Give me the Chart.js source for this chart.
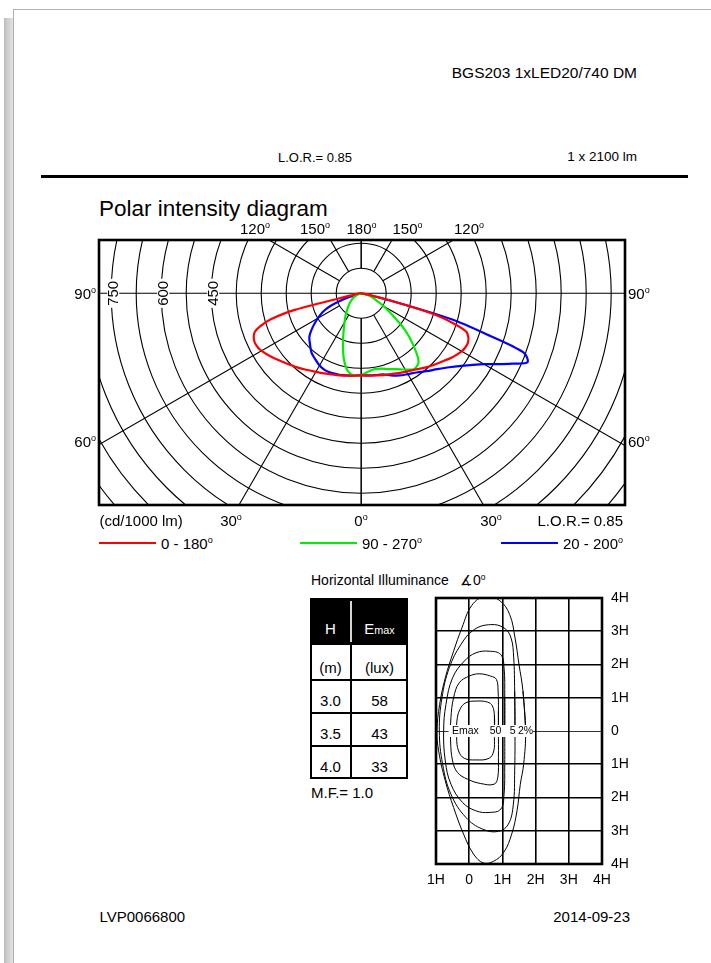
<!DOCTYPE html>
<html>
<head>
<meta charset="utf-8">
<title>BGS203 1xLED20/740 DM</title>
<script src="https://cdn.jsdelivr.net/npm/chart.js@4.4.1/dist/chart.umd.min.js"></script>
<style>
  html, body { margin: 0; padding: 0; }
  body { width: 711px; height: 963px; position: relative; overflow: hidden; background: #fff;
         font-family: 'Liberation Sans', Arial, sans-serif; color: #000; }
  .shadow { position: absolute; left: 4px; top: 18px; width: 9px; height: 945px;
            background: linear-gradient(to right, #bcbcbc, #cdcdcd 35%, #e2e2e2); }
  .page { position: absolute; left: 13px; top: 9px; width: 720px; height: 980px; background: #fff;
          border-top: 1px solid #b0b0b0; border-left: 1px solid #b0b0b0; }
  .t { position: absolute; white-space: nowrap; line-height: 1; }
  .t sup { font-size: 0.6em; vertical-align: 0.62em; line-height: 0; }
  .t small { font-size: 0.72em; }
  canvas { position: absolute; }
  .blk { position: absolute; background: #000; }
</style>
</head>
<body>
<div class="shadow"></div>
<div class="page"></div>
<div class="blk" style="left:41px;top:175px;width:647px;height:3px"></div>

<canvas id="polar" width="546" height="285" style="left:89px;top:230px"></canvas>
<canvas id="iso" width="206" height="300" style="left:426px;top:588px"></canvas>

<!-- legend strokes -->
<div class="blk" style="left:99px;top:542px;width:57px;height:2px;background:#ff0000"></div>
<div class="blk" style="left:300px;top:542px;width:57px;height:2px;background:#00ee00"></div>
<div class="blk" style="left:501px;top:542px;width:57px;height:2px;background:#0000ff"></div>

<!-- Emax table frame -->
<div class="blk" style="left:310px;top:598px;width:98px;height:47px"></div>
<div class="blk" style="left:350px;top:601px;width:2px;height:41px;background:#d4d4d4"></div>
<div style="position:absolute;left:310px;top:598px;width:98px;height:181px;box-sizing:border-box;border:2px solid #000"></div>
<div class="blk" style="left:350px;top:645px;width:1.5px;height:134px"></div>
<div class="blk" style="left:310px;top:679px;width:98px;height:1.5px"></div>
<div class="blk" style="left:310px;top:712px;width:98px;height:1.5px"></div>
<div class="blk" style="left:310px;top:745px;width:98px;height:1.5px"></div>

<script>
const FONT = "'Liberation Sans', Arial, sans-serif";

// luminous intensity (cd/1000 lm) against gamma, 0 = nadir
const gammaDeg = [0, 5, 10, 15, 20, 25, 30, 35, 40, 45, 50, 55, 60, 62.5, 65, 67.5, 70, 72, 74, 76, 78, 80];
const cdC0   = [246, 248, 251, 255, 259, 265, 272, 281, 292, 303, 316, 331, 345, 350, 352, 349, 340, 318, 282, 205, 30, 0];
const cdC180 = [246, 248, 250, 254, 258, 264, 271, 280, 292, 305, 318, 334, 348, 352, 353, 348, 335, 290, 225, 95, 0, 0];
const cdC90  = [246, 248, 236, 202, 160, 125, 100, 82, 66, 54, 44, 35, 27, 23, 19, 16, 13, 10, 7, 4, 2, 0];
const cdC270 = [246, 236, 231, 234, 242, 251, 264, 277, 268, 222, 172, 115, 78, 63, 50, 42, 35, 30, 26, 20, 12, 5];
const cdC20  = [246, 248, 250, 253, 255, 255, 250, 241, 232, 217, 203, 178, 151, 137, 122, 100, 70, 46, 25, 10, 3, 0];
const cdC200 = [246, 247, 249, 252, 262, 272, 280, 290, 305, 322, 345, 378, 425, 460, 499, 540, 518, 390, 280, 90, 0, 0];

const ringStep = 75;
const ringLabels = [450, 600, 750];
const spokeDeg = [0, 30, 60, 120, 150, 180];

// isolux lines, in mounting heights H
const isoLine1 = [[0.76,0],[0.76,0.45],[0.7,0.75],[0.55,0.87],[0.2,0.9],[-0.1,0.85],[-0.28,0.65],[-0.37,0.3],[-0.38,-0.2],[-0.32,-0.6],[-0.15,-0.82],[0.2,-0.87],[0.6,-0.82],[0.74,-0.6],[0.76,-0.2],[0.76,0],[0.76,0.45]];
const isoLine2 = [[0.88,0],[0.88,0.6],[0.87,1.2],[0.82,1.55],[0.65,1.65],[0.3,1.72],[0.0,1.65],[-0.3,1.45],[-0.47,1.0],[-0.55,0.4],[-0.56,-0.3],[-0.5,-0.9],[-0.35,-1.25],[-0.05,-1.45],[0.35,-1.58],[0.75,-1.6],[0.86,-1.4],[0.88,-0.8],[0.88,0],[0.88,0.6]];
const isoLine3 = [[1.07,0],[1.07,1.0],[1.05,1.9],[0.95,2.3],[0.6,2.4],[0.2,2.35],[-0.15,2.1],[-0.5,1.6],[-0.7,0.8],[-0.77,0],[-0.72,-0.9],[-0.55,-1.6],[-0.2,-2.15],[0.2,-2.4],[0.6,-2.45],[0.95,-2.35],[1.05,-1.9],[1.07,-1.0],[1.07,0],[1.07,1.0]];
const isoLine4 = [[1.38,0],[1.37,1.2],[1.34,2.2],[1.26,2.8],[1.05,3.1],[0.65,3.2],[0.15,3.05],[-0.25,2.6],[-0.6,1.9],[-0.82,1.0],[-0.9,0],[-0.8,-1.0],[-0.55,-1.9],[-0.1,-2.6],[0.4,-2.95],[0.88,-3.02],[1.18,-2.8],[1.33,-2.2],[1.37,-1.2],[1.38,0],[1.37,1.2]];
const isoLine5 = [[1.7,0],[1.62,1.2],[1.5,2.0],[1.38,2.8],[1.22,3.5],[0.92,3.92],[0.48,4.05],[0.08,3.78],[-0.22,3.1],[-0.47,2.4],[-0.72,1.6],[-0.89,0.8],[-0.97,0],[-0.92,-0.6],[-0.72,-1.5],[-0.47,-2.3],[-0.17,-3.1],[0.13,-3.7],[0.43,-3.97],[0.73,-3.92],[1.04,-3.65],[1.28,-3.1],[1.44,-2.4],[1.54,-1.6],[1.64,-1.0],[1.7,0],[1.62,1.2]];
const isoTags = ['Emax', '50', '5', '2%'];
const isoTagAt = [-0.52, 0.62, 1.22, 1.47];

const emaxHeights = ['3.0', '3.5', '4.0'];
const emaxLux = ['58', '43', '33'];

// ---- text
function put(x, y, html, size, align, color) {
    const d = document.createElement('div');
    d.className = 't';
    d.innerHTML = html;
    d.style.left = x + 'px';
    d.style.top = (y - size * 0.49) + 'px';
    d.style.fontSize = size + 'px';
    if (align === 'r') d.style.transform = 'translateX(-100%)';
    if (align === 'c') d.style.transform = 'translateX(-50%)';
    if (color) d.style.color = color;
    document.body.appendChild(d);
}
const deg = s => s + '<sup>o</sup>';

put(637, 73, 'BGS203 1xLED20/740 DM', 15.5, 'r');
put(278, 157, 'L.O.R.= 0.85', 13, 'l');
put(637, 157, '1 x 2100 lm', 13.5, 'r');
put(99, 209, 'Polar intensity diagram', 22.5, 'l');

put(255, 228, deg('120'), 15, 'c');
put(315, 228, deg('150'), 15, 'c');
put(361.5, 228, deg('180'), 15, 'c');
put(407.5, 228, deg('150'), 15, 'c');
put(469, 228, deg('120'), 15, 'c');
put(96, 293, deg('90'), 15, 'r');
put(628, 293, deg('90'), 15, 'l');
put(96, 441, deg('60'), 15, 'r');
put(628, 441, deg('60'), 15, 'l');
put(99.5, 520, '(cd/1000 lm)', 15, 'l');
put(231, 520, deg('30'), 15, 'c');
put(361, 520, deg('0'), 15, 'c');
put(491, 520, deg('30'), 15, 'c');
put(623, 520, 'L.O.R.= 0.85', 15, 'r');
put(161, 543, deg('0 - 180'), 15, 'l');
put(362, 543, deg('90 - 270'), 15, 'l');
put(563, 543, deg('20 - 200'), 15, 'l');

put(311, 580, 'Horizontal Illuminance', 14, 'l');
put(460, 580, '∡0<sup>o</sup>', 14, 'l');

put(330.5, 628, 'H', 15, 'c', '#fff');
put(379.5, 628, 'E<small>max</small>', 15, 'c', '#fff');
put(330.5, 667, '(m)', 15, 'c');
put(379.5, 667, '(lux)', 15, 'c');
emaxHeights.forEach((h, i) => {
    put(330.5, 700 + i * 33, h, 15, 'c');
    put(379.5, 700 + i * 33, emaxLux[i], 15, 'c');
});
put(311, 792, 'M.F.= 1.0', 15, 'l');

put(99.5, 916, 'LVP0066800', 15, 'l');
put(630, 916, '2014-09-23', 15, 'r');

// ---- polar diagram
function planeCurve(leftCd, rightCd) {
    const rad = Math.PI / 180;
    const pts = [];
    gammaDeg.forEach((g, i) => {
        if (leftCd[i] > 0) pts.push({ x: -leftCd[i] * Math.sin(g * rad), y: -leftCd[i] * Math.cos(g * rad) });
    });
    pts.push({ x: 0, y: 0 });
    for (let i = gammaDeg.length - 1; i >= 0; i--) {
        const g = gammaDeg[i];
        if (rightCd[i] > 0) pts.push({ x: rightCd[i] * Math.sin(g * rad), y: -rightCd[i] * Math.cos(g * rad) });
    }
    return pts;
}

const polarGrid = {
    id: 'polarGrid',
    beforeDatasetsDraw(chart) {
        const { ctx, chartArea: a, scales: { x, y } } = chart;
        const cx = x.getPixelForValue(0), cy = y.getPixelForValue(0);
        const len = v => x.getPixelForValue(v) - cx;
        ctx.save();
        ctx.beginPath();
        ctx.rect(a.left, a.top, a.width, a.height);
        ctx.clip();
        ctx.strokeStyle = '#000';
        ctx.lineWidth = 1.1;
        for (let n = 1; n <= 14; n++) {
            ctx.beginPath();
            ctx.arc(cx, cy, len(n * ringStep), 0, Math.PI * 2);
            ctx.stroke();
        }
        const r0 = len(ringStep), r1 = len(3000);
        spokeDeg.forEach(g => {
            const s = Math.sin(g * Math.PI / 180), c = Math.cos(g * Math.PI / 180);
            [-1, 1].forEach(side => {
                ctx.beginPath();
                ctx.moveTo(cx + side * s * r0, cy + c * r0);
                ctx.lineTo(cx + side * s * r1, cy + c * r1);
                ctx.stroke();
            });
        });
        ctx.beginPath();
        ctx.moveTo(a.left, cy);
        ctx.lineTo(a.right, cy);
        ctx.stroke();

        ctx.font = '15px ' + FONT;
        ctx.textAlign = 'center';
        ctx.textBaseline = 'middle';
        ringLabels.forEach(v => {
            const w = ctx.measureText(String(v)).width;
            ctx.save();
            ctx.translate(cx - len(v) + 2, cy);
            ctx.rotate(-Math.PI / 2);
            ctx.fillStyle = '#fff';
            ctx.fillRect(-w / 2 - 2, -6, w + 4, 12);
            ctx.fillStyle = '#000';
            ctx.fillText(String(v), 0, 1);
            ctx.restore();
        });
        ctx.restore();
    },
    afterDraw(chart) {
        const { ctx, chartArea: a } = chart;
        ctx.save();
        ctx.lineWidth = 2.6;
        ctx.strokeStyle = '#000';
        ctx.strokeRect(a.left, a.top, a.width, a.height);
        ctx.restore();
    }
};

const curve = (data, color) => ({
    data, borderColor: color, borderWidth: 2.2, showLine: true,
    pointRadius: 0, tension: 0.3, fill: false
});

new Chart(document.getElementById('polar'), {
    type: 'scatter',
    data: {
        datasets: [
            curve(planeCurve(cdC0, cdC180), '#ff0000'),
            curve(planeCurve(cdC90, cdC270), '#00ee00'),
            curve(planeCurve(cdC20, cdC200), '#0000ff')
        ]
    },
    options: {
        responsive: false,
        animation: false,
        layout: { padding: 10 },
        plugins: { legend: { display: false }, tooltip: { enabled: false } },
        scales: {
            x: { type: 'linear', display: false, min: -786.6, max: 791.4 },
            y: { type: 'linear', display: false, min: -635.1, max: 159.9 }
        }
    },
    plugins: [polarGrid]
});

// ---- isolux diagram
const isoFrame = {
    id: 'isoFrame',
    afterDatasetsDraw(chart) {
        const { ctx, scales: { x, y } } = chart;
        const y0 = y.getPixelForValue(0);
        const x0 = x.getPixelForValue(-0.62), x1 = x.getPixelForValue(1.92);
        ctx.save();
        ctx.fillStyle = '#fff';
        ctx.fillRect(x0, y0 - 6, x1 - x0, 12);
        ctx.fillStyle = '#000';
        ctx.font = '10.5px ' + FONT;
        ctx.textBaseline = 'middle';
        isoTags.forEach((t, i) => ctx.fillText(t, x.getPixelForValue(isoTagAt[i]), y0 + 0.5));
        ctx.restore();
    },
    afterDraw(chart) {
        const { ctx, chartArea: a } = chart;
        ctx.save();
        ctx.lineWidth = 2.6;
        ctx.strokeStyle = '#000';
        ctx.strokeRect(a.left, a.top, a.width, a.height);
        ctx.restore();
    }
};

const isoTickText = v => v === 0 ? '0' : Math.abs(v) + 'H';
const isoSet = pts => ({
    data: pts.map(p => ({ x: p[0], y: p[1] })),
    borderColor: '#000', borderWidth: 1, showLine: true,
    pointRadius: 0, tension: 0.4, fill: false
});

new Chart(document.getElementById('iso'), {
    type: 'scatter',
    data: { datasets: [isoLine1, isoLine2, isoLine3, isoLine4, isoLine5].map(isoSet) },
    options: {
        responsive: false,
        animation: false,
        layout: { padding: { left: 10, top: 10, right: 0, bottom: 0 } },
        plugins: { legend: { display: false }, tooltip: { enabled: false } },
        scales: {
            x: {
                type: 'linear', position: 'bottom', min: -1, max: 4,
                grid: { color: '#000', lineWidth: 1.6, drawTicks: false },
                border: { display: false },
                ticks: { stepSize: 1, autoSkip: false, maxRotation: 0, padding: 8, color: '#000',
                         font: { family: FONT, size: 14 }, callback: isoTickText },
                afterFit: s => { s.height = 24; s.paddingLeft = 0; s.paddingRight = 0; }
            },
            y: {
                type: 'linear', position: 'right', min: -4, max: 4,
                grid: { color: '#000', lineWidth: c => (c.tick && c.tick.value === 0 ? 0.8 : 1.6), drawTicks: false },
                border: { display: false },
                ticks: { stepSize: 1, autoSkip: false, padding: 9, color: '#000',
                         font: { family: FONT, size: 14 }, callback: isoTickText },
                afterFit: s => { s.width = 30; s.paddingTop = 0; s.paddingBottom = 0; }
            }
        }
    },
    plugins: [isoFrame]
});
</script>
</body>
</html>
